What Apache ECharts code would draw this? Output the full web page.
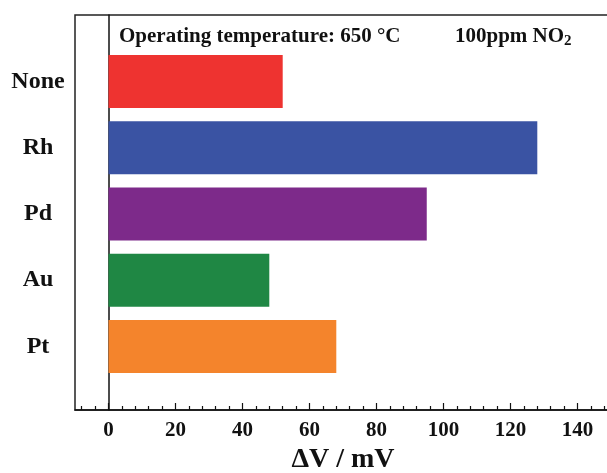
<!DOCTYPE html>
<html>
<head>
<meta charset="utf-8">
<script src="https://cdn.jsdelivr.net/npm/echarts@6/dist/echarts.min.js"></script>
<style>
  html, body { margin: 0; padding: 0; background: #fff; }
  #main { width: 607px; height: 473px; }
</style>
</head>
<body>
<div id="main"></div>
<script>
// data
var catalysts = ['None', 'Rh', 'Pd', 'Au', 'Pt'];
var deltaV = [52, 128, 95, 48, 68];
var barColors = ['#ee3330', '#3a53a3', '#7d2a8a', '#1f8744', '#f4842c'];
var xTicks = [0, 20, 40, 60, 80, 100, 120, 140];
var xMin = -10, xMax = 150;

var minorTicks = [];
for (var v = -8; v < xMax; v += 4) {
  if (v % 20 !== 0) minorTicks.push(v);
}

var font = 'Liberation Serif, Times New Roman, serif';

var chart = echarts.init(document.getElementById('main'));
var option = {
  animation: false,
  grid: [
    { left: 75, right: -4, top: 15, bottom: 63, outerBoundsMode: 'none', show: true, borderColor: '#222', borderWidth: 1.5 },
    { left: 75, right: -4, top: 48.4, bottom: 93.4, outerBoundsMode: 'none' }
  ],
  xAxis: [
    {
      gridIndex: 0, type: 'value', position: 'bottom', min: xMin, max: xMax,
      axisLine: { show: true, lineStyle: { color: '#111', width: 1.5 } },
      axisTick: { show: true, inside: true, length: 7, customValues: xTicks, lineStyle: { color: '#111', width: 1.2 } },
      axisLabel: {
        customValues: xTicks, color: '#111', fontFamily: font, fontWeight: 'bold', fontSize: 21, margin: 10
      },
      splitLine: { show: false },
      name: 'ΔV / mV', nameLocation: 'middle', nameGap: 31,
      nameTextStyle: { color: '#111', fontFamily: font, fontWeight: 'bold', fontSize: 28 }
    },
    {
      gridIndex: 0, type: 'value', position: 'bottom', offset: 0, min: xMin, max: xMax,
      axisLine: { show: false },
      axisTick: { show: true, inside: true, length: 4, customValues: minorTicks, lineStyle: { color: '#111', width: 1.2 } },
      axisLabel: { show: false },
      splitLine: { show: false }
    },
    {
      gridIndex: 1, type: 'value', min: xMin, max: xMax, show: false
    }
  ],
  yAxis: [
    {
      gridIndex: 0, type: 'value', min: 0, max: 1,
      axisLine: { show: true, onZero: true, onZeroAxisIndex: 0, lineStyle: { color: '#111', width: 1.5 } },
      axisTick: { show: false },
      axisLabel: { show: false },
      splitLine: { show: false }
    },
    {
      gridIndex: 1, type: 'category', data: catalysts, inverse: true,
      axisLine: { show: false, onZero: false },
      axisTick: { show: false },
      axisLabel: {
        color: '#111', fontFamily: font, fontWeight: 'bold', fontSize: 24,
        align: 'center', margin: 37
      }
    }
  ],
  graphic: [
    {
      type: 'text', left: 119, top: 26, silent: true,
      style: {
        text: 'Operating temperature: 650 °C',
        font: 'bold 21px ' + font, fill: '#111'
      }
    },
    {
      type: 'text', left: 455, top: 26, silent: true,
      style: {
        text: '100ppm NO{sub|2}',
        font: 'bold 21px ' + font, fill: '#111',
        rich: {
          sub: { fontSize: 15, fontWeight: 'bold', fontFamily: font, verticalAlign: 'bottom', padding: [10, 0, 0, 0] }
        }
      }
    }
  ],
  series: [
    {
      type: 'bar', xAxisIndex: 2, yAxisIndex: 1, barWidth: '80%',
      data: deltaV.map(function (d, i) {
        return { value: d, itemStyle: { color: barColors[i] } };
      })
    }
  ]
};
chart.setOption(option);
</script>
</body>
</html>
